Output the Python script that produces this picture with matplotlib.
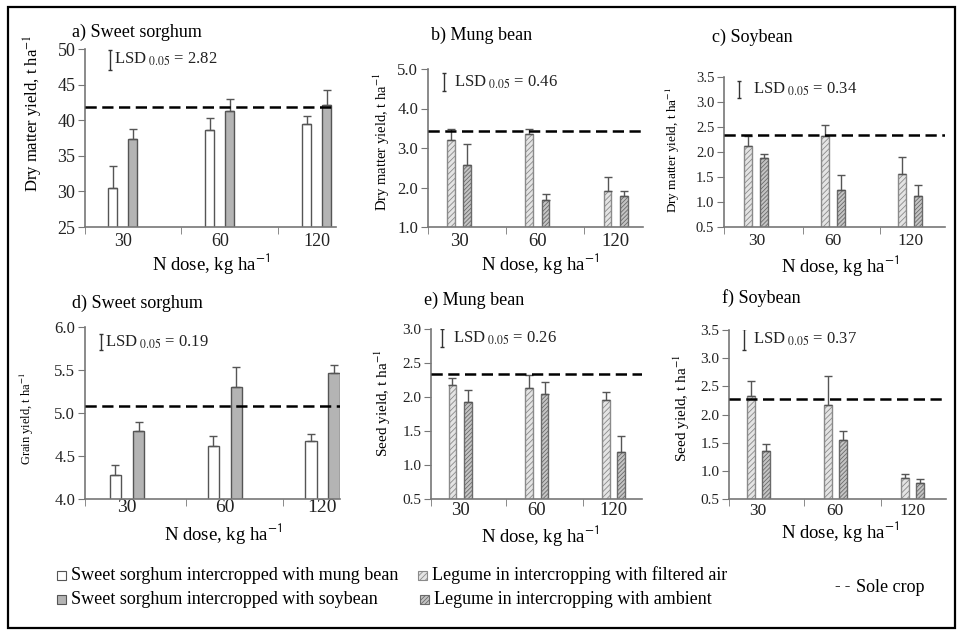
import matplotlib
matplotlib.use('Agg')
import matplotlib.pyplot as plt
from matplotlib.patches import Rectangle
import numpy as np

plt.rcParams['font.family'] = ['Liberation Serif', 'DejaVu Serif']
plt.rcParams['mathtext.fontset'] = 'stix'
plt.rcParams['hatch.linewidth'] = 0.6

# ---- data ----
doses = ['30', '60', '120']

# a) sweet sorghum dry matter, t/ha
dm_sorghum_mung = [30.5, 38.6, 39.4]
dm_sorghum_mung_err = [3.0, 1.7, 1.2]
dm_sorghum_soy = [37.3, 41.3, 42.2]
dm_sorghum_soy_err = [1.5, 1.7, 2.1]
dm_sorghum_sole = 41.9
dm_sorghum_lsd = 2.82

# b) mung bean dry matter
dm_mung_filtered = [3.21, 3.35, 1.91]
dm_mung_filtered_err = [0.26, 0.14, 0.35]
dm_mung_ambient = [2.56, 1.69, 1.78]
dm_mung_ambient_err = [0.55, 0.15, 0.14]
dm_mung_sole = 3.42
dm_mung_lsd = 0.46

# c) soybean dry matter
dm_soy_filtered = [2.13, 2.33, 1.57]
dm_soy_filtered_err = [0.20, 0.20, 0.33]
dm_soy_ambient = [1.89, 1.25, 1.13]
dm_soy_ambient_err = [0.08, 0.30, 0.22]
dm_soy_sole = 2.35
dm_soy_lsd = 0.34

# d) sweet sorghum grain yield
grain_sorghum_mung = [4.28, 4.62, 4.67]
grain_sorghum_mung_err = [0.11, 0.11, 0.09]
grain_sorghum_soy = [4.79, 5.30, 5.47]
grain_sorghum_soy_err = [0.11, 0.23, 0.09]
grain_sorghum_sole = 5.08
grain_sorghum_lsd = 0.19

# e) mung bean seed yield
seed_mung_filtered = [2.18, 2.13, 1.95]
seed_mung_filtered_err = [0.10, 0.19, 0.13]
seed_mung_ambient = [1.93, 2.04, 1.19]
seed_mung_ambient_err = [0.17, 0.18, 0.23]
seed_mung_sole = 2.34
seed_mung_lsd = 0.26

# f) soybean seed yield
seed_soy_filtered = [2.33, 2.16, 0.88]
seed_soy_filtered_err = [0.26, 0.52, 0.07]
seed_soy_ambient = [1.36, 1.55, 0.79]
seed_soy_ambient_err = [0.12, 0.16, 0.06]
seed_soy_sole = 2.27
seed_soy_lsd = 0.37

# ---- styles ----
sty_sorghum_mung = dict(color='white', edgecolor='#555555', hatch=None)
sty_sorghum_soy = dict(color='#b4b4b4', edgecolor='#555555', hatch=None)
sty_filtered = dict(color='#e4e4e4', edgecolor='#8a8a8a', hatch='//////')
sty_ambient = dict(color='#c4c4c4', edgecolor='#6a6a6a', hatch='////////')

W, H = 963, 636


def fx(x):
    return x / W


def fy(y):
    return 1 - y / H


fig = plt.figure(figsize=(W / 100, H / 100), dpi=100)


def draw_panel(rect, xlim, ylim, yticks, fmt, s1, e1, st1, s2, e2, st2,
               sole, lsd, lsd_x, lsd_top, lsd_dx, width, off,
               ysize=11, xsize=12, xpad=4):
    l, t, r, b = rect
    ax = fig.add_axes([fx(l), fy(b), (r - l) / W, (b - t) / H])
    x = np.arange(len(doses))
    ekw = dict(ecolor='#555555', elinewidth=1, capsize=3, capthick=1)
    for xs, vals, errs, st in [(x - off, s1, e1, st1), (x + off, s2, e2, st2)]:
        ax.bar(xs, vals, width, yerr=[np.zeros(len(vals)), errs],
               color=st['color'], edgecolor=st['edgecolor'], hatch=st['hatch'],
               linewidth=1, error_kw=ekw, zorder=2)
    # sole crop reference line
    ax.axhline(sole, color='black', ls=(0, (4.5, 2.2)), lw=1.8, zorder=3)

    # LSD marker
    ax.errorbar(lsd_x, lsd_top - lsd / 2, yerr=lsd / 2, fmt='none',
                ecolor='#333333', elinewidth=1, capsize=1.2, zorder=3)
    ax.annotate(r'LSD$_{\ 0.05}$ = ' + f'{lsd:.2f}', xy=(lsd_x, lsd_top - lsd / 2),
                xytext=(lsd_dx, 0), textcoords='offset points', va='center',
                fontsize=12, color='#222222')

    ax.set_xlim(*xlim)
    ax.set_ylim(*ylim)
    ax.set_yticks(yticks)
    ax.set_yticklabels([fmt % v for v in yticks])
    ax.set_xticks(x)
    ax.set_xticklabels(doses)
    ax.set_xticks([xlim[0], 0.6, 1.6], minor=True)
    ax.tick_params(axis='x', which='major', length=0, pad=xpad, labelsize=xsize,
                   labelcolor='#222222')
    ax.tick_params(axis='x', which='minor', length=5, direction='out', color='#777777')
    ax.tick_params(axis='y', length=5, direction='out', color='#777777',
                   labelsize=ysize, pad=2, labelcolor='#222222')
    for sp in ['top', 'right']:
        ax.spines[sp].set_visible(False)
    for sp in ['left', 'bottom']:
        ax.spines[sp].set_color('#777777')
        ax.spines[sp].set_linewidth(1.2)
    return ax


draw_panel((85, 49, 336, 227), (-0.39, 2.2), (25, 50), [25, 30, 35, 40, 45, 50], '%d',
           dm_sorghum_mung, dm_sorghum_mung_err, sty_sorghum_mung,
           dm_sorghum_soy, dm_sorghum_soy_err, sty_sorghum_soy,
           dm_sorghum_sole, dm_sorghum_lsd, -0.13, 49.9, 3, 0.095, 0.103,
           ysize=13, xsize=13, xpad=4)
draw_panel((428, 69, 643, 227), (-0.40, 2.35), (1.0, 5.0), [1.0, 2.0, 3.0, 4.0, 5.0], '%.1f',
           dm_mung_filtered, dm_mung_filtered_err, sty_filtered,
           dm_mung_ambient, dm_mung_ambient_err, sty_ambient,
           dm_mung_sole, dm_mung_lsd, -0.19, 4.9, 7, 0.10, 0.103,
           ysize=12, xsize=13.5, xpad=4)
draw_panel((724, 77, 945, 227), (-0.42, 2.45), (0.5, 3.5),
           [0.5, 1.0, 1.5, 2.0, 2.5, 3.0, 3.5], '%.1f',
           dm_soy_filtered, dm_soy_filtered_err, sty_filtered,
           dm_soy_ambient, dm_soy_ambient_err, sty_ambient,
           dm_soy_sole, dm_soy_lsd, -0.23, 3.42, 10, 0.104, 0.104,
           ysize=10.5, xsize=12.5, xpad=4)
draw_panel((85, 327, 340, 499), (-0.43, 2.18), (4.0, 6.0), [4.0, 4.5, 5.0, 5.5, 6.0], '%.1f',
           grain_sorghum_mung, grain_sorghum_mung_err, sty_sorghum_mung,
           grain_sorghum_soy, grain_sorghum_soy_err, sty_sorghum_soy,
           grain_sorghum_sole, grain_sorghum_lsd, -0.27, 5.92, 3, 0.115, 0.118,
           ysize=12, xsize=14, xpad=0)
draw_panel((431, 329, 642, 499), (-0.38, 2.37), (0.5, 3.0),
           [0.5, 1.0, 1.5, 2.0, 2.5, 3.0], '%.1f',
           seed_mung_filtered, seed_mung_filtered_err, sty_filtered,
           seed_mung_ambient, seed_mung_ambient_err, sty_ambient,
           seed_mung_sole, seed_mung_lsd, -0.24, 3.0, 8, 0.10, 0.10,
           ysize=11, xsize=13.5, xpad=2)
draw_panel((729, 330, 946, 499), (-0.38, 2.44), (0.5, 3.5),
           [0.5, 1.0, 1.5, 2.0, 2.5, 3.0, 3.5], '%.1f',
           seed_soy_filtered, seed_soy_filtered_err, sty_filtered,
           seed_soy_ambient, seed_soy_ambient_err, sty_ambient,
           seed_soy_sole, seed_soy_lsd, -0.19, 3.52, 7, 0.105, 0.097,
           ysize=11, xsize=12.5, xpad=3)

# panel titles
fig.text(fx(72), fy(32), 'a) Sweet sorghum', fontsize=13, va='center', ha='left')
fig.text(fx(482), fy(35), 'b) Mung bean', fontsize=13, va='center', ha='center')
fig.text(fx(752), fy(37), 'c) Soybean', fontsize=13, va='center', ha='center')
fig.text(fx(72), fy(303), 'd) Sweet sorghum', fontsize=13, va='center', ha='left')
fig.text(fx(474), fy(300), 'e) Mung bean', fontsize=13, va='center', ha='center')
fig.text(fx(761), fy(298), 'f) Soybean', fontsize=13, va='center', ha='center')

# x labels
xlab = r'N dose, kg ha$^{\mathsf{-1}}$'
for cx, cy in [(211, 264), (540, 263), (840, 265), (223, 534), (540, 535), (840, 532)]:
    fig.text(fx(cx), fy(cy), xlab, fontsize=13.5, ha='center', va='center')

# y labels
dm_lab = r'Dry matter yield, t ha$^{-1}$'
seed_lab = r'Seed yield, t ha$^{-1}$'
grain_lab = r'Grain yield, t ha$^{-1}$'
for cx, cy, txt, fs in [(33, 113, dm_lab, 12), (382, 142, dm_lab, 10.5),
                        (673, 150, dm_lab, 9.5), (27, 419, grain_lab, 9),
                        (383, 403, seed_lab, 11), (682, 408, seed_lab, 11)]:
    fig.text(fx(cx), fy(cy), txt, fontsize=fs, rotation=90, ha='center', va='center')

# legend
legend_items = [
    (57, 575, sty_sorghum_mung, 'Sweet sorghum intercropped with mung bean'),
    (57, 599, sty_sorghum_soy, 'Sweet sorghum intercropped with soybean'),
    (418, 575, sty_filtered, 'Legume in intercropping with filtered air'),
    (420, 599, sty_ambient, 'Legume in intercropping with ambient'),
]
for lx, ly, st, label in legend_items:
    fig.patches.append(Rectangle((fx(lx), fy(ly + 4.5)), 9 / W, 9 / H,
                                 transform=fig.transFigure, facecolor=st['color'],
                                 edgecolor=st['edgecolor'], hatch=st['hatch'], lw=0.8))
    fig.text(fx(lx + 14), fy(ly), label, fontsize=13, va='center', ha='left')
fig.text(fx(835), fy(586), '- -', fontsize=12, va='center', ha='left')
fig.text(fx(856), fy(587), 'Sole crop', fontsize=13, va='center', ha='left')

# outer frame
fig.patches.append(Rectangle((fx(8), fy(628)), (955 - 8) / W, (628 - 7) / H,
                             transform=fig.transFigure, fill=False, lw=1.6,
                             edgecolor='black'))

fig.savefig('out.png', dpi=100)
